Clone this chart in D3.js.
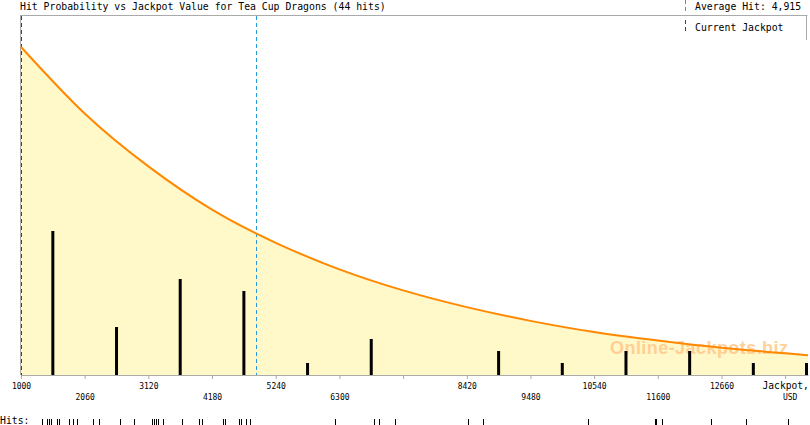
<!DOCTYPE html>
<html>
<head>
<meta charset="utf-8">
<script src="https://cdn.jsdelivr.net/npm/d3@7"></script>
<style>
  body { margin: 0; background: #fff; }
  svg { display: block; }
  text { font-family: "DejaVu Sans Mono", monospace; fill: #000; }
</style>
</head>
<body>
<svg id="chart" width="810" height="425"></svg>
<script>
const title = 'Hit Probability vs Jackpot Value for Tea Cup Dragons (44 hits)'
const currentJackpot = 1000
const averageHit = 4915

// histogram, one bar per 1060 wide bin
const binCenters = [1530, 2590, 3650, 4710, 5770, 6830, 7890, 8950, 10010, 11070, 12130, 13190, 14250]
const binHits = [12, 4, 8, 7, 1, 3, 0, 2, 1, 2, 2, 1, 1]

// probability curve (relative to value at current jackpot)
const curveJackpot = [1000, 2060, 3120, 4180, 5240, 6300, 7360, 8420, 9480, 10540, 11600, 12660, 13720, 14100]
const curveProb = [1.0, 0.797, 0.636, 0.504, 0.403, 0.322, 0.258, 0.207, 0.165, 0.131, 0.105, 0.083, 0.066, 0.060]

// individual hits (rug at the bottom)
const hits = [1350, 1350, 1433, 1466, 1466, 1499, 1599, 1632, 1632, 1799, 1866, 1932,
  2198, 2298, 2648, 2881, 3180, 3214, 3247, 3280, 3364, 3680, 3963, 4013,
  4362, 4396, 4396, 4629, 4662, 4745, 4812, 6227, 6876, 6959, 7225, 8440,
  8690, 10438, 11560, 11575, 11669, 12485, 13068, 13767]

const tickValues = [1000, 2060, 3120, 4180, 5240, 6300, 7360, 8420, 9480, 10540, 11600, 12660, 13720]
const tickLabels = ['1000', '2060', '3120', '4180', '5240', '6300', '', '8420', '9480', '10540', '11600', '12660', 'Jackpot,']
const tickRows = [0, 1, 0, 1, 0, 1, 0, 0, 1, 0, 1, 0, 0]
const unitLabel = 'USD'

const margin = { top: 15, left: 21, right: 2, bottom: 50 }
const width = 810
const height = 425
const plotBottom = height - margin.bottom
const plotRight = width - margin.right

const x = d3.scaleLinear().domain([1000, 14100]).range([margin.left, plotRight]).clamp(true)
const yProb = d3.scaleLinear().domain([0, 1]).range([plotBottom, 47])
const yHits = d3.scaleLinear().domain([0, 30]).range([plotBottom, margin.top])

const svg = d3.select('#chart')

const curveData = curveJackpot.map((v, i) => ({ v, p: curveProb[i] }))

// title
svg.append('text')
  .attr('x', 20)
  .attr('y', 10)
  .style('font-size', '9.8px')
  .text(title)

// area under the curve
svg.append('path')
  .datum(curveData)
  .attr('fill', '#fff8c8')
  .attr('d', d3.area()
    .x(d => x(d.v))
    .y0(plotBottom)
    .y1(d => yProb(d.p))
    .curve(d3.curveNatural))

// watermark
svg.append('text')
  .attr('x', 610)
  .attr('y', 354)
  .attr('textLength', 178)
  .style('font-family', '"Liberation Sans", Arial, sans-serif')
  .style('font-weight', 'bold')
  .style('font-size', '18px')
  .style('fill', '#ffc98a')
  .style('opacity', 0.85)
  .text('Online-Jackpots.biz')

// frame
const frame = svg.append('g').attr('stroke', '#aaa').attr('fill', 'none')
frame.append('line').attr('x1', 20).attr('x2', plotRight - 0.5).attr('y1', 15.5).attr('y2', 15.5)
frame.append('line').attr('x1', 20.5).attr('x2', 20.5).attr('y1', 15).attr('y2', plotBottom)
frame.append('line').attr('x1', plotRight - 1.5).attr('x2', plotRight - 1.5).attr('y1', 15).attr('y2', 40)

// histogram bars
svg.append('g')
  .selectAll('rect')
  .data(binCenters.map((v, i) => ({ v, n: binHits[i] })).filter(d => d.n > 0))
  .enter().append('rect')
    .attr('x', d => Math.min(x(d.v) - 1.5, plotRight - 3))
    .attr('y', d => yHits(d.n))
    .attr('width', 3)
    .attr('height', d => plotBottom - yHits(d.n))
    .attr('fill', '#000')

// average hit and current jackpot lines
svg.append('line')
  .attr('x1', Math.round(x(averageHit)) + 0.5).attr('x2', Math.round(x(averageHit)) + 0.5)
  .attr('y1', 16).attr('y2', plotBottom)
  .attr('stroke', '#2a9ad8')
  .attr('stroke-dasharray', '4,3')

svg.append('line')
  .attr('x1', x(currentJackpot) + 0.5).attr('x2', x(currentJackpot) + 0.5)
  .attr('y1', 16).attr('y2', plotBottom)
  .attr('stroke', '#b01020')
  .attr('stroke-dasharray', '4,3')

// probability curve
svg.append('path')
  .datum(curveData)
  .attr('fill', 'none')
  .attr('stroke', '#ff8800')
  .attr('stroke-width', 2)
  .attr('d', d3.line()
    .x(d => x(d.v))
    .y(d => yProb(d.p))
    .curve(d3.curveNatural))

// x axis
const xAxis = d3.axisBottom(x)
  .tickValues(tickValues)
  .tickSize(4)
  .tickSizeOuter(0)
  .tickFormat((d, i) => tickLabels[i])

const axis = svg.append('g')
  .attr('transform', `translate(0, ${plotBottom})`)
  .call(xAxis)

axis.select('.domain').attr('stroke', '#aaa')
axis.selectAll('.tick line').attr('stroke', '#aaa')
axis.selectAll('.tick text')
  .attr('dy', 0)
  .attr('y', (d, i) => tickRows[i] ? 25 : 13.5)
  .style('font-family', '"DejaVu Sans Mono", monospace')
  .style('font-size', (d, i) => i === tickValues.length - 1 ? '9.6px' : '8px')
  .attr('fill', '#000')

axis.append('text')
  .attr('x', x(tickValues[tickValues.length - 1]) + 5)
  .attr('y', 25)
  .attr('text-anchor', 'middle')
  .style('font-size', '8px')
  .text(unitLabel)

// legend
const legend = svg.append('g')
legend.append('line')
  .attr('x1', 685.5).attr('x2', 685.5).attr('y1', 0).attr('y2', 11)
  .attr('stroke', '#2a9ad8').attr('stroke-dasharray', '4,3')
legend.append('text')
  .attr('x', 695).attr('y', 10)
  .style('font-size', '9.8px')
  .text('Average Hit: ' + d3.format(',')(averageHit))
legend.append('line')
  .attr('x1', 685.5).attr('x2', 685.5).attr('y1', 20).attr('y2', 34)
  .attr('stroke', '#b01020').attr('stroke-dasharray', '4,3')
legend.append('text')
  .attr('x', 695).attr('y', 31)
  .style('font-size', '9.8px')
  .text('Current Jackpot')

// hits rug
svg.append('text')
  .attr('x', 0).attr('y', 424)
  .style('font-size', '9.8px')
  .text('Hits:')

svg.append('g')
  .selectAll('line')
  .data(hits)
  .enter().append('line')
    .attr('x1', d => Math.round(x(d)) + 0.5)
    .attr('x2', d => Math.round(x(d)) + 0.5)
    .attr('y1', 419)
    .attr('y2', 425)
    .attr('stroke', '#000')
</script>
</body>
</html>
